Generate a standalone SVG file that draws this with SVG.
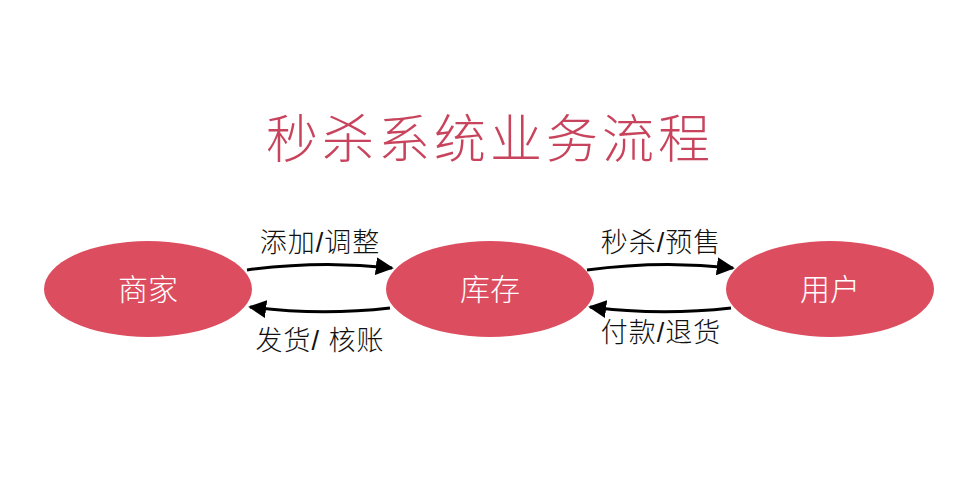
<svg xmlns="http://www.w3.org/2000/svg" width="968" height="477" viewBox="0 0 968 477">
<style>
.node{fill:#dd4d60;}
.nt{font-family:"Noto Sans CJK SC",sans-serif;font-weight:300;font-size:30px;fill:#ffffff;text-anchor:middle;}
.lbl{font-family:"Liberation Sans","Noto Sans CJK SC",sans-serif;font-weight:300;font-size:27px;fill:#111111;text-anchor:middle;}
.title{font-family:"Noto Sans CJK SC",sans-serif;font-weight:300;font-size:52px;fill:#c8445d;text-anchor:middle;}
.conn{fill:none;stroke:#000;stroke-width:3;marker-end:url(#arr);}
</style>
<defs>
<marker id="arr" viewBox="0 0 10 10" refX="9" refY="5" markerWidth="6" markerHeight="6" orient="auto" markerUnits="strokeWidth">
<path d="M0,0 L10,5 L0,10 Z" fill="#000"/>
</marker>
</defs>
<rect width="968" height="477" fill="#ffffff"/>
<text class="title" x="490" y="158" letter-spacing="4">秒杀系统业务流程</text>
<g id="node-merchant"><ellipse class="node" cx="148" cy="289" rx="104" ry="48"/><text class="nt" x="148" y="300">商家</text></g>
<g id="node-stock"><ellipse class="node" cx="490" cy="289" rx="104" ry="48"/><text class="nt" x="490" y="300">库存</text></g>
<g id="node-user"><ellipse class="node" cx="830" cy="289" rx="104" ry="48"/><text class="nt" x="830" y="300">用户</text></g>
<g id="connectors">
<path class="conn" d="M247,270 Q320,260 392,268"/>
<path class="conn" d="M390,308 Q320,316 250,307"/>
<path class="conn" d="M587,270 Q660,260 733,268"/>
<path class="conn" d="M731,308 Q660,316 590,307"/>
</g>
<g id="labels">
<text class="lbl" x="320" y="252" letter-spacing="1">添加/调整</text>
<text class="lbl" x="320" y="350" letter-spacing="1">发货/ 核账</text>
<text class="lbl" x="661" y="252" letter-spacing="1">秒杀/预售</text>
<text class="lbl" x="661" y="342" letter-spacing="1">付款/退货</text>
</g>
</svg>
